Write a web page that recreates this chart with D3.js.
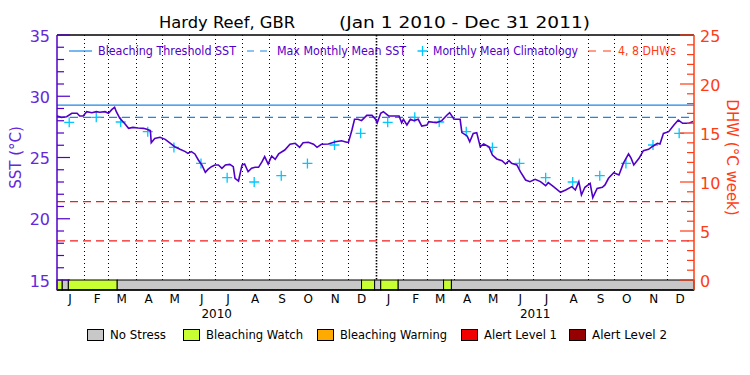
<!DOCTYPE html>
<html>
<head>
<meta charset="utf-8">
<script src="https://cdn.jsdelivr.net/npm/d3@7"></script>
<style>
  body { margin: 0; background: #fff; }
  svg { display: block; font-family: "DejaVu Sans", sans-serif; }
</style>
</head>
<body>
<svg width="750" height="375"></svg>
<script>
// data
const startDate = new Date(Date.UTC(2010, 0, 1));
const endDate = new Date(Date.UTC(2012, 0, 1));

// SST trace: days since Jan 1 2010 and values (°C)
const sstDay = [0, 5, 11, 17, 23, 26, 30, 34, 40, 45, 49, 55, 59, 63, 66, 68, 72, 78, 82, 87, 93, 99, 103, 107, 108,
  112, 118, 124, 130, 135, 141, 147, 150, 154, 158, 162, 166, 170, 173, 177, 181, 185, 189, 193, 198, 202, 204, 208,
  212, 215, 219, 223, 227, 231, 235, 238, 242, 246, 250, 254, 261, 267, 273, 278, 282, 288, 294, 298, 303, 311, 319,
  326, 332, 334, 338, 341, 345, 349, 355, 361, 365, 367, 371, 374, 380, 392, 395, 397, 401, 405, 409, 414, 418, 424,
  426, 435, 441, 447, 450, 455, 462, 464, 470, 473, 477, 481, 485, 489, 495, 499, 504, 510, 514, 518, 521, 527, 531,
  537, 542, 548, 554, 560, 563, 569, 577, 583, 590, 594, 598, 601, 605, 611, 614, 619, 625, 628, 632, 638, 644, 649,
  655, 658, 661, 667, 672, 678, 682, 688, 691, 695, 701, 707, 712, 717, 724, 729];
const sstValue = [28.39, 28.28, 28.33, 28.61, 28.61, 28.39, 28.39, 28.74, 28.66, 28.74, 28.69, 28.74, 28.61, 28.93,
  29.10, 28.74, 28.20, 27.73, 27.38, 27.46, 27.41, 27.38, 27.30, 27.19, 26.21, 26.56, 26.65, 26.48, 26.16, 25.88,
  25.67, 25.48, 25.34, 25.48, 25.29, 24.80, 24.39, 23.79, 24.03, 24.25, 24.39, 24.39, 24.12, 24.39, 24.44, 24.25,
  23.30, 23.08, 24.39, 24.47, 23.84, 24.12, 24.20, 24.20, 24.66, 25.07, 24.47, 25.12, 24.85, 25.29, 25.61, 26.08,
  26.16, 25.83, 26.21, 26.24, 26.08, 25.83, 26.08, 26.10, 26.29, 26.37, 26.24, 26.24, 27.24, 28.12, 28.12, 28.01,
  28.44, 28.44, 28.12, 27.84, 28.61, 28.74, 28.39, 28.39, 27.84, 28.12, 27.65, 28.12, 28.01, 28.12, 27.57, 27.65,
  27.93, 27.84, 28.01, 28.47, 28.66, 28.12, 28.12, 27.03, 26.76, 26.29, 26.97, 27.03, 25.88, 26.10, 25.88, 25.20,
  24.88, 24.74, 24.47, 24.74, 24.52, 24.39, 23.84, 23.16, 23.03, 23.22, 23.03, 22.70, 22.95, 22.62, 22.16, 22.35,
  22.62, 22.35, 23.03, 21.94, 22.57, 22.89, 21.72, 22.48, 22.57, 22.76, 23.30, 23.76, 23.57, 24.52, 25.29, 24.93,
  24.39, 24.93, 25.56, 25.67, 25.88, 26.16, 26.10, 26.97, 27.11, 27.65, 28.06, 27.79, 27.79, 27.93];

// monthly mean climatology (Jan..Dec), repeated for each year
const climatology = [27.87, 28.28, 27.90, 27.11, 25.82, 24.52, 23.35, 23.00, 23.52, 24.52, 26.02, 26.97];
const maxMonthlyMean = 28.28;
const bleachingThreshold = 29.28;
const dhwLevels = [4, 8];

// stress level bar: day ranges and level index
const stressFrom = [0, 6, 13, 69, 349, 364, 371, 391, 443, 452];
const stressTo = [6, 13, 69, 349, 364, 371, 391, 443, 452, 730];
const stressLevel = [1, 0, 1, 0, 1, 0, 1, 0, 1, 0];
const stressNames = ["No Stress", "Bleaching Watch", "Bleaching Warning", "Alert Level 1", "Alert Level 2"];
const stressColors = ["#c8c8c8", "#c8ff32", "#ffaa00", "#f00000", "#960000"];

const sstTicks = [15, 20, 25, 30, 35];
const dhwTicks = [0, 5, 10, 15, 20, 25];

const purple = "#5000c8";
const labelPurple = "#6428dc";
const orange = "#ff3c14";
const blue = "#1a88e8";
const cyan = "#00c8ff";

const svg = d3.select("svg");
const mLeft = 57, mRight = 694, mTop = 35, plotBottom = 280, mBottom = 290;

const x = d3.scaleUtc().domain([startDate, endDate]).range([mLeft, mRight]);
const y = d3.scaleLinear().domain([15, 35]).range([plotBottom, mTop]);
const yDhw = d3.scaleLinear().domain([0, 25]).range([plotBottom, mTop]);
const dayDate = d => d3.utcDay.offset(startDate, d);

// title
svg.append("text").attr("x", 159).attr("y", 28).attr("font-size", 15)
  .attr("textLength", 136).attr("lengthAdjust", "spacingAndGlyphs").text("Hardy Reef, GBR");
svg.append("text").attr("x", 339).attr("y", 28).attr("font-size", 15)
  .attr("textLength", 251).attr("lengthAdjust", "spacingAndGlyphs").text("(Jan 1 2010 - Dec 31 2011)");

// month grid lines
const months = d3.utcMonths(d3.utcMonth.offset(startDate, 1), endDate);
svg.append("g").selectAll("line").data(months).join("line")
  .attr("x1", d => Math.round(x(d)) + 0.5).attr("x2", d => Math.round(x(d)) + 0.5)
  .attr("y1", mTop).attr("y2", plotBottom)
  .attr("stroke", "#000")
  .attr("stroke-width", d => d.getUTCMonth() === 0 ? 1.6 : 1)
  .attr("stroke-dasharray", d => d.getUTCMonth() === 0 ? "1.5,1.5" : "1,3");

// reference lines
svg.append("line").attr("x1", mLeft).attr("x2", mRight)
  .attr("y1", y(bleachingThreshold)).attr("y2", y(bleachingThreshold))
  .attr("stroke", blue).attr("stroke-width", 1.2);
svg.append("line").attr("x1", mLeft).attr("x2", mRight)
  .attr("y1", y(maxMonthlyMean)).attr("y2", y(maxMonthlyMean))
  .attr("stroke", blue).attr("stroke-width", 1.2).attr("stroke-dasharray", "8,5");
svg.append("g").selectAll("line").data(dhwLevels).join("line")
  .attr("x1", mLeft).attr("x2", mRight)
  .attr("y1", d => yDhw(d)).attr("y2", d => yDhw(d))
  .attr("stroke", "#f01e1e").attr("stroke-width", 1.2).attr("stroke-dasharray", "8,5");

// climatology crosses at mid-month
const climData = [];
[2010, 2011].forEach(yr => climatology.forEach((v, m) => climData.push({ date: new Date(Date.UTC(yr, m, 15)), v })));
const cross = svg.append("g").attr("stroke", cyan).attr("stroke-width", 1.3);
cross.selectAll("path").data(climData).join("path")
  .attr("d", d => { const cx = x(d.date), cy = y(d.v); return `M${cx - 5},${cy}H${cx + 5}M${cx},${cy - 5}V${cy + 5}`; });

// SST line
const sstData = sstDay.map((d, i) => ({ date: dayDate(d), v: sstValue[i] }));
svg.append("path").datum(sstData)
  .attr("fill", "none").attr("stroke", purple).attr("stroke-width", 1.6)
  .attr("d", d3.line().x(d => x(d.date)).y(d => y(d.v)));

// stress bar
svg.append("g").selectAll("rect").data(stressLevel).join("rect")
  .attr("x", (d, i) => x(dayDate(stressFrom[i])))
  .attr("width", (d, i) => x(dayDate(stressTo[i])) - x(dayDate(stressFrom[i])))
  .attr("y", plotBottom).attr("height", mBottom - plotBottom)
  .attr("fill", d => stressColors[d]).attr("stroke", "#000").attr("stroke-width", 1);

// frame
svg.append("line").attr("x1", mLeft).attr("x2", mRight).attr("y1", mTop).attr("y2", mTop).attr("stroke", "#000").attr("stroke-width", 1.5);
svg.append("line").attr("x1", mLeft).attr("x2", mRight).attr("y1", mBottom).attr("y2", mBottom).attr("stroke", "#000").attr("stroke-width", 1.5);

// left axis
const gl = svg.append("g").attr("transform", `translate(${mLeft},0)`);
gl.append("line").attr("y1", mTop).attr("y2", mBottom).attr("stroke", purple).attr("stroke-width", 1.5);
gl.selectAll(".mt").data(d3.range(15, 36)).join("line")
  .attr("x1", 0).attr("x2", d => d % 5 === 0 ? 13 : 7)
  .attr("y1", d => y(d)).attr("y2", d => y(d))
  .attr("stroke", purple).attr("stroke-width", 1.2);
gl.selectAll("text").data(sstTicks).join("text")
  .attr("x", -7).attr("y", d => y(d) + 1).attr("dy", "0.35em").attr("text-anchor", "end")
  .attr("font-size", 16).attr("fill", labelPurple).text(d => d);
svg.append("text").attr("transform", `translate(21,${(mTop + plotBottom) / 2}) rotate(-90)`)
  .attr("text-anchor", "middle").attr("font-size", 15).attr("fill", labelPurple).text("SST (°C)");

// right axis
const gr = svg.append("g").attr("transform", `translate(${mRight},0)`);
gr.append("line").attr("y1", mTop).attr("y2", mBottom).attr("stroke", orange).attr("stroke-width", 1.5);
gr.selectAll(".mt").data(d3.range(0, 26)).join("line")
  .attr("x1", 0).attr("x2", d => d % 5 === 0 ? -14 : -7)
  .attr("y1", d => yDhw(d)).attr("y2", d => yDhw(d))
  .attr("stroke", orange).attr("stroke-width", 1.2);
gr.selectAll("text").data(dhwTicks).join("text")
  .attr("x", 6).attr("y", d => yDhw(d) + 1).attr("dy", "0.35em")
  .attr("font-size", 16).attr("fill", orange).text(d => d);
svg.append("text").attr("transform", `translate(727,${(mTop + plotBottom) / 2}) rotate(90)`)
  .attr("text-anchor", "middle").attr("font-size", 15).attr("fill", orange).text("DHW (°C week)");

// month letters and years
const allMonths = d3.utcMonths(startDate, endDate);
svg.append("g").selectAll("text").data(allMonths).join("text")
  .attr("x", d => x(d3.utcDay.offset(d, 15))).attr("y", 303)
  .attr("text-anchor", "middle").attr("font-size", 12).text(d => d3.utcFormat("%b")(d)[0]);
svg.append("g").selectAll("text").data([2010, 2011]).join("text")
  .attr("x", d => x(new Date(Date.UTC(d, 6, 3)))).attr("y", 318)
  .attr("text-anchor", "middle").attr("font-size", 12).text(d => d);

// top legend
const ly = 51;
svg.append("line").attr("x1", 69).attr("x2", 92).attr("y1", ly).attr("y2", ly).attr("stroke", blue).attr("stroke-width", 1.2);
svg.append("line").attr("x1", 247).attr("x2", 268).attr("y1", ly).attr("y2", ly).attr("stroke", blue).attr("stroke-width", 1.2).attr("stroke-dasharray", "7,6");
svg.append("path").attr("d", `M417.5,${ly}H427.5M422.5,${ly - 5}V${ly + 5}`).attr("stroke", cyan).attr("stroke-width", 1.3);
svg.append("line").attr("x1", 588).attr("x2", 612).attr("y1", ly).attr("y2", ly).attr("stroke", orange).attr("stroke-width", 1.2).attr("stroke-dasharray", "8,7");
const topLegend = [
  { t: "Bleaching Threshold SST", x: 98, w: 138, c: purple },
  { t: "Max Monthly Mean SST", x: 277, w: 129, c: purple },
  { t: "Monthly Mean Climatology", x: 433, w: 145, c: purple },
  { t: "4, 8 DHWs", x: 618, w: 58, c: orange }
];
svg.append("g").selectAll("text").data(topLegend).join("text")
  .attr("x", d => d.x).attr("y", ly).attr("dy", "0.35em").attr("font-size", 12)
  .attr("textLength", d => d.w).attr("lengthAdjust", "spacingAndGlyphs")
  .attr("fill", d => d.c).text(d => d.t);

// bottom legend
const boxX = [87, 183, 317, 461, 569];
const textW = [56, 97, 107, 73, 75];
const bl = svg.append("g").selectAll("g").data(stressNames).join("g");
bl.append("rect").attr("x", (d, i) => boxX[i] + 0.5).attr("y", 329.5).attr("width", 16).attr("height", 11)
  .attr("fill", (d, i) => stressColors[i]).attr("stroke", "#000").attr("stroke-width", 1);
bl.append("text").attr("x", (d, i) => boxX[i] + 23).attr("y", 335).attr("dy", "0.35em").attr("font-size", 12)
  .attr("textLength", (d, i) => textW[i]).attr("lengthAdjust", "spacingAndGlyphs").text(d => d);
</script>
</body>
</html>
